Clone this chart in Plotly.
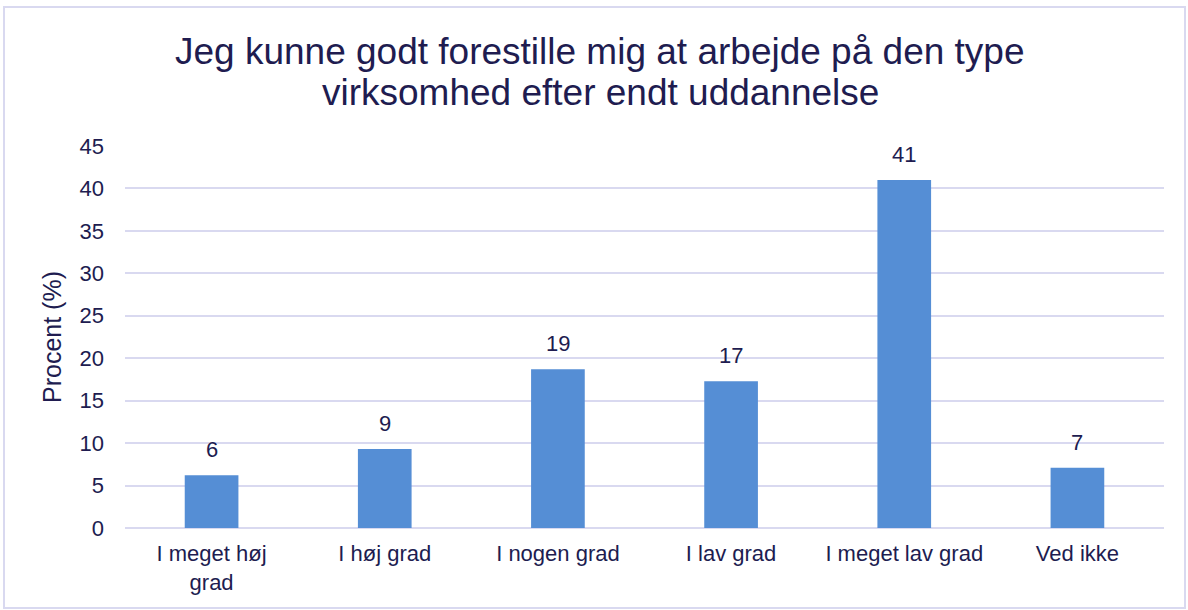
import plotly.graph_objects as go

categories = ["I meget høj<br>grad", "I høj grad", "I nogen grad", "I lav grad", "I meget lav grad", "Ved ikke"]
values = [6.2, 9.3, 18.7, 17.3, 41.0, 7.1]
labels = [str(int(round(v))) for v in values]
title_lines = ["Jeg kunne godt forestille mig at arbejde på den type",
               "virksomhed efter endt uddannelse"]
y_title = "Procent (%)"
y_ticks = [0, 5, 10, 15, 20, 25, 30, 35, 40, 45]

TXT = "#201c50"
GRID = "#d9d9f0"
BAR = "#558ed5"
FONT = "Liberation Sans, Arial, sans-serif"

W, H = 1188, 610
ML, MR, MT, MB = 125, 24, 146, 82
PW, PH = W - ML - MR, H - MT - MB

fig = go.Figure()
fig.add_trace(go.Bar(x=categories, y=values, marker=dict(color=BAR, line=dict(width=0)),
                     width=0.31, showlegend=False, hoverinfo="skip"))

for c, v, t in zip(categories, values, labels):
    fig.add_annotation(x=c, y=v, text=t, showarrow=False, yanchor="bottom", yshift=11,
                       font=dict(size=22, color=TXT, family=FONT))

# title lines (pixel centres x=600, y=51 and 92 from top)
for line, py in zip(title_lines, [51, 92]):
    fig.add_annotation(xref="paper", yref="paper", x=(600 - ML) / PW,
                       y=1 + (MT - py) / PH, text=line, showarrow=False,
                       xanchor="center", yanchor="middle",
                       font=dict(size=37, color=TXT, family=FONT))

fig.update_layout(
    width=W, height=H,
    margin=dict(l=ML, r=MR, t=MT, b=MB),
    paper_bgcolor="white", plot_bgcolor="white",
    font=dict(family=FONT, color=TXT),
    xaxis=dict(showgrid=False, showline=False, zeroline=False, ticks="",
               tickfont=dict(size=22, color=TXT), ticklabelstandoff=10),
    yaxis=dict(range=[0, 45], tickvals=y_ticks, showgrid=True, gridcolor=GRID, gridwidth=2,
               zeroline=True, zerolinecolor=GRID, zerolinewidth=2, showline=False, ticks="",
               tickfont=dict(size=22, color=TXT), ticklabelstandoff=20,
               title=dict(text=y_title, font=dict(size=25, color=TXT), standoff=10)),
    bargap=0.69,
)

fig.add_shape(type="rect", xref="paper", yref="paper",
              x0=-121 / PW, x1=1 + 21 / PW, y0=-80 / PH, y1=1 + 139 / PH,
              line=dict(color=GRID, width=2), fillcolor="rgba(0,0,0,0)", layer="below")

fig.write_html("out.html", config={"displayModeBar": False},
               post_script="document.body.style.margin='0';document.body.style.padding='0';")
